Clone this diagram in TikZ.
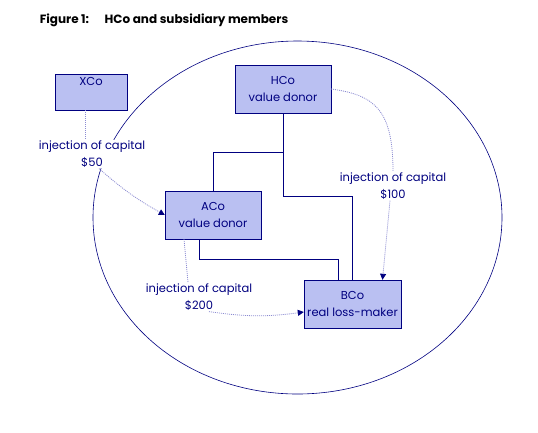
\documentclass[tikz,border=0pt]{standalone}
\usepackage{fontspec}
\setmainfont{Poppins}
\usepackage{tikz}
\usetikzlibrary{positioning, arrows.meta}
\definecolor{navy}{RGB}{0,0,128}
\definecolor{boxfill}{RGB}{186,192,242}
\definecolor{dotline}{RGB}{140,140,210}

\begin{document}
\begin{tikzpicture}[
  x=1pt, y=1pt,
  every node/.style={font=\fontsize{11.5}{17}\selectfont, text=navy},
  box/.style={draw=navy, fill=boxfill, align=center, inner sep=1mm},
  lbl/.style={fill=white, align=center, inner sep=1pt},
  tree/.style={draw=navy, line width=0.7pt},
  inj/.style={draw=dotline, dash pattern=on 1pt off 1pt, line width=0.8pt},
  injarr/.style={inj, -{Triangle[length=6pt, width=6pt, color=navy]}}
]
\useasboundingbox (0,0) rectangle (538,-432);
\node[font=\fontsize{12}{13}\selectfont\bfseries, text=black] (title) at (164,-20)
  {Figure 1:\hspace{1.3em}HCo and subsidiary members};
\draw[navy, line width=0.6pt] (297.5,-217.5) ellipse [x radius=204.5, y radius=176.5];
\node[box, minimum width=72pt, minimum height=36pt] (xco) at (91,-92) {XCo\\[4pt]};
\node[box, minimum width=96pt, minimum height=48pt] (hco) at (283,-89) {HCo\\value donor};
\node[box, minimum width=96pt, minimum height=48pt] (aco) at (213,-215) {ACo\\value donor};
\node[box, minimum width=97pt, minimum height=48pt] (bco) at (352.5,-304) {BCo\\real loss-maker};
\node[lbl] (injx) at (92,-154)  {injection of capital\\\$50};
\node[lbl] (injh) at (393,-186) {injection of capital\\\$100};
\node[lbl] (inja) at (199,-297) {injection of capital\\\$200};
% ownership lines
\coordinate (hjoin) at (283,-152);
\coordinate (hbend) at (283,-196);
\coordinate (abend) at (199,-259);
\draw[tree] (hco.south) -- (hjoin) -| (aco.north);
\draw[tree] (hjoin) -- (hbend) -| (bco.north);
\draw[tree] (aco.south -| abend) -- (abend) -| ([xshift=-14pt]bco.north);
% capital injections
\draw[inj] ([xshift=-6pt]xco.south) -- ([xshift=-6pt]xco.south |- injx.north);
\draw[injarr] ([xshift=7pt]injx.south) to[bend right=6] (aco.west);
\draw[inj] (hco.east) .. controls (375,-95) and (393,-110) .. (injh.north);
\draw[injarr] ([xshift=-3pt]injh.south) -- ([xshift=30pt]bco.north);
\draw[inj] ([xshift=-29pt]aco.south) -- ([xshift=-11pt]inja.north);
\draw[injarr] ([xshift=10pt]inja.south) to[bend right=8] ([yshift=-8pt]bco.west);
\end{tikzpicture}
\end{document}
